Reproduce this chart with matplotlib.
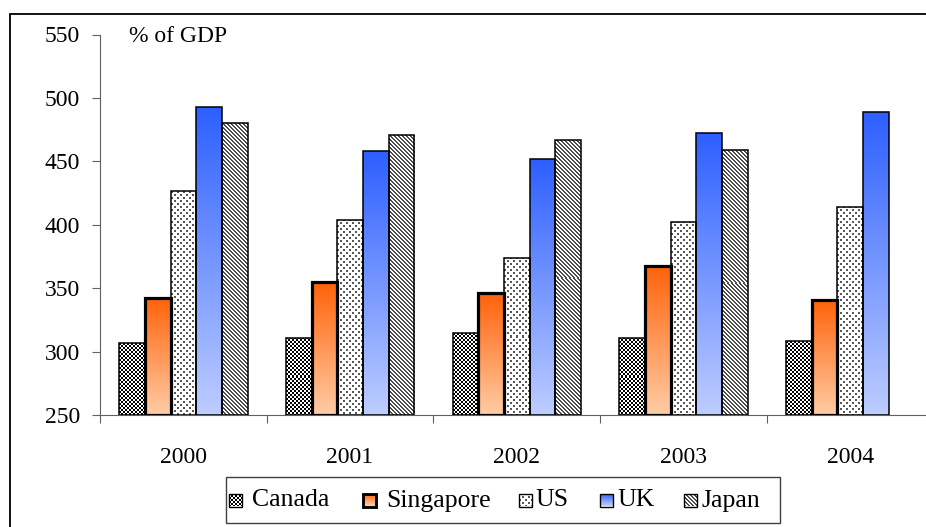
import numpy as np
import matplotlib
matplotlib.use('Agg')
import matplotlib.pyplot as plt
from matplotlib.patches import Rectangle
from matplotlib import font_manager

# values, % of GDP
years = ['2000', '2001', '2002', '2003', '2004']
canada = [306.5, 311, 314.5, 311, 308]
singapore = [342.5, 354.5, 346, 367.5, 341]
us = [426.5, 404, 374, 402.5, 414]
uk = [493, 458, 451.5, 472, 489]
japan = [480, 470.5, 467, 459, np.nan]   # no 2004 figure

series_names = ['Canada', 'Singapore', 'US', 'UK', 'Japan']
series_vals = [canada, singapore, us, uk, japan]

# pick whichever serif face is around
avail = {f.name for f in font_manager.fontManager.ttflist}
serif = [n for n in ['Liberation Serif', 'Times New Roman', 'DejaVu Serif']
         if n in avail]
plt.rcParams['font.family'] = 'serif'
plt.rcParams['font.serif'] = serif + ['DejaVu Serif']
FS = 17
FS_LEG = 18.5

W, H = 926, 527
fig = plt.figure(figsize=(W / 100, H / 100), dpi=100)

# plot area in pixels (it runs off the right-hand side of the canvas)
ax_l, ax_r, ax_t, ax_b = 100, 933.5, 34.5, 415
ax = fig.add_axes([ax_l / W, (H - ax_b) / H, (ax_r - ax_l) / W, (ax_b - ax_t) / H])
ymin, ymax = 250, 550
px_x = (ax_r - ax_l) / len(years)
px_y = (ax_b - ax_t) / (ymax - ymin)


########################## fill patterns ##########################

def checker(h, w):
    yy, xx = np.mgrid[0:h, 0:w]
    on = ((xx // 2) + (yy // 2)) % 2 == 0
    g = np.where(on, 0.0, 1.0)
    return np.dstack([g, g, g])


def dots(h, w):
    yy, xx = np.mgrid[0:h, 0:w]
    a = (xx % 6 < 2) & (yy % 6 < 2)
    b = ((xx + 3) % 6 < 2) & ((yy + 3) % 6 < 2)
    g = np.where(a | b, 0.35, 1.0)
    return np.dstack([g, g, g])


def diag(h, w):
    yy, xx = np.mgrid[0:h, 0:w]
    g = np.where((xx - yy) % 4 < 2, 0.3, 1.0)
    return np.dstack([g, g, g])


def gradient(top, bottom):
    top = np.array(top) / 255.0
    bottom = np.array(bottom) / 255.0

    def make(h, w):
        t = np.linspace(0, 1, max(h, 2))[:, None, None]
        col = top * (1 - t) + bottom * t
        return np.repeat(col, max(w, 1), axis=1)
    return make


fills = [checker,
         gradient((255, 98, 10), (255, 204, 165)),
         dots,
         gradient((45, 95, 255), (190, 205, 255)),
         diag]
edge_w = [1.1, 2.3, 1.1, 1.1, 1.1]

########################## bars ##########################

bw = 0.154
x = np.arange(len(years))
for i, (name, vals) in enumerate(zip(series_names, series_vals)):
    for j, v in enumerate(vals):
        if np.isnan(v):
            continue
        x0 = x[j] + (i - 2) * bw - bw / 2
        bar = ax.bar(x0, v - ymin, width=bw, bottom=ymin, align='edge',
                     facecolor='none', edgecolor='black',
                     linewidth=edge_w[i], zorder=3)[0]
        hpx = int(round((v - ymin) * px_y))
        wpx = int(round(bw * px_x))
        im = ax.imshow(fills[i](hpx, wpx), extent=[x0, x0 + bw, ymin, v],
                       origin='upper', aspect='auto', interpolation='nearest',
                       zorder=2)
        im.set_clip_path(bar)

ax.set_xlim(-0.5, len(years) - 0.5)
ax.set_ylim(ymin, ymax)
ax.set_yticks(np.arange(250, 551, 50))
ax.tick_params(axis='y', direction='out', length=5.8, width=0.8,
               color='#606060', pad=8.5, labelsize=FS)

# category boundary ticks, labels in the middle of each group
ax.set_xticks(np.arange(-0.5, len(years), 1.0))
ax.set_xticklabels([])
ax.set_xticks(x, minor=True)
ax.set_xticklabels(years, minor=True, fontsize=FS)
ax.tick_params(axis='x', which='major', direction='out', length=5.8,
               width=0.8, color='#606060')
ax.tick_params(axis='x', which='minor', length=0, pad=23)

for s in ['top', 'right']:
    ax.spines[s].set_visible(False)
for s in ['left', 'bottom']:
    ax.spines[s].set_color('#606060')
    ax.spines[s].set_linewidth(0.8)

########################## frame, label, legend ##########################

ov = fig.add_axes([0, 0, 1, 1], zorder=5)
ov.set_xlim(0, W)
ov.set_ylim(H, 0)
ov.axis('off')
ov.patch.set_alpha(0)

# outer chart frame
ov.plot([10, 10, W], [H, 14, 14], color='black', lw=1.3,
        solid_joinstyle='miter')

ov.text(129, 37, '% of GDP', fontsize=FS, va='center', ha='left')

ov.add_patch(Rectangle((226, 477), 554, 46, facecolor='white',
                       edgecolor='#404040', lw=1.0))
sw_x = [229, 363, 519, 600, 684]
txt_x = [252, 386, 535, 617, 701]
for i, name in enumerate(series_names):
    sx = sw_x[i]
    sw = Rectangle((sx, 493.5), 13, 13, facecolor='none', edgecolor='black',
                   lw=edge_w[i] * 0.9, zorder=3)
    ov.add_patch(sw)
    im = ov.imshow(fills[i](13, 13), extent=[sx, sx + 13, 506.5, 493.5],
                   origin='upper', aspect='auto', interpolation='nearest',
                   zorder=2)
    im.set_clip_path(sw)
    ov.text(txt_x[i], 500.5, name, fontsize=FS_LEG, va='center', ha='left')
ov.set_xlim(0, W)
ov.set_ylim(H, 0)

fig.savefig('out.png', dpi=100)
